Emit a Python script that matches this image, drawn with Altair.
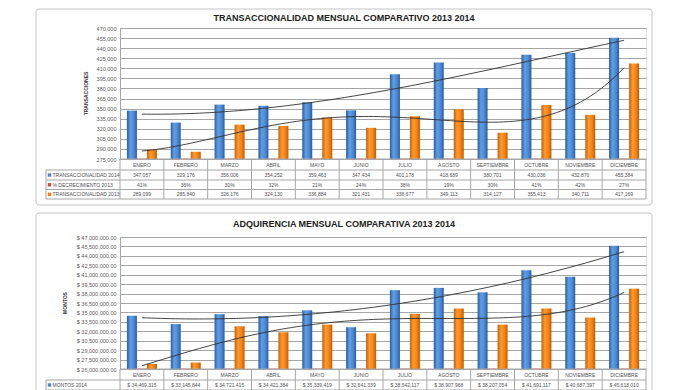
import altair as alt
import pandas as pd

# ---------------- data ----------------
meses = ["ENERO", "FEBRERO", "MARZO", "ABRIL", "MAYO", "JUNIO", "JULIO",
         "AGOSTO", "SEPTIEMBRE", "OCTUBRE", "NOVIEMBRE", "DICIEMBRE"]
trans_2014 = [347057, 329176, 356006, 354252, 359463, 347434, 401178,
              418689, 380701, 430036, 432870, 455384]
trans_2013 = [289099, 285840, 326176, 324130, 336884, 321431, 338677,
              349113, 314127, 355413, 340711, 417169]
pct_2013 = [41, 36, 30, 32, 21, 24, 38, 19, 30, 41, 42, 27]

montos_2014 = [34469315, 33145844, 34721415, 34421384, 35339419, 32641339,
               38542117, 38907968, 38207054, 41691117, 40687397, 45618010]
montos_2013 = [26820000, 27030000, 32800000, 31840000, 33070000, 31680000,
               34780000, 35630000, 33070000, 35630000, 34190000, 38780000]
pct_2014 = [0.3, 0.2, 0.1, 0.1, 0.1, 0.1, 0.1, 0.1, 0.2, 0.2, 0.2, 0.2]

ticks_top = list(range(275000, 470001, 15000))
ticks_bot = list(range(26000000, 47000001, 1500000))

# ---------------- style ----------------
W = 526
FONT = "Liberation Sans"
GRID = "#a6a6a6"
TXT = "#505050"
BLUE = "#4a89d6"
RED = "#c0504d"
ORANGE = "#f5820f"

blue_grad = alt.Gradient(gradient="linear", x1=0, x2=1, y1=0, y2=0, stops=[
    alt.GradientStop(color="#2c5d9e", offset=0),
    alt.GradientStop(color="#5f9fe6", offset=0.35),
    alt.GradientStop(color="#4b88d4", offset=0.7),
    alt.GradientStop(color="#2a5a9c", offset=1)])
orange_grad = alt.Gradient(gradient="linear", x1=0, x2=1, y1=0, y2=0, stops=[
    alt.GradientStop(color="#c4600a", offset=0),
    alt.GradientStop(color="#ff9a30", offset=0.35),
    alt.GradientStop(color="#f4820f", offset=0.7),
    alt.GradientStop(color="#c05a06", offset=1)])

xband = alt.Scale(domain=meses, paddingInner=0, paddingOuter=0)
xoff_scale = alt.Scale(domain=["a", "b", "c"], paddingInner=0, paddingOuter=0.69)
one = pd.DataFrame({"k": [0]})


def hline(y, x1, x2, color=GRID):
    return alt.Chart(one).mark_rule(color=color, strokeWidth=1).encode(
        x=alt.value(x1), x2=alt.value(x2), y=alt.value(y))


def vline(x, y1, y2, color=GRID):
    return alt.Chart(one).mark_rule(color=color, strokeWidth=1).encode(
        x=alt.value(x), x2=alt.value(x), y=alt.value(y1), y2=alt.value(y2))


def label(text, x, y, size=5, bold=False, align="left", angle=0, color=TXT):
    return alt.Chart(one).mark_text(
        text=text, fontSize=size, font=FONT, fontWeight="bold" if bold else "normal",
        align=align, baseline="middle", angle=angle, color=color).encode(
        x=alt.value(x), y=alt.value(y))


def swatch(color, x, y):
    return alt.Chart(one).mark_square(size=12, color=color, opacity=1).encode(
        x=alt.value(x), y=alt.value(y))


def panel(H, frame_top, frame_bot, title, title_y, ytitle, ytitle_x,
          v14, v13, pct, dom, ticks, ylab_expr, rows, pct_text, v13_text,
          order14, order13):
    df = pd.DataFrame({"mes": meses, "idx": list(range(1, 13)),
                       "v14": v14, "v13": v13, "pct": pct})
    yscale = alt.Scale(domain=dom, nice=False, zero=False, clamp=True)
    yax = alt.Axis(values=ticks, grid=True, gridColor=GRID, gridWidth=1,
                   domain=True, domainColor=GRID, ticks=False,
                   labelFontSize=5.5, labelFont=FONT, labelColor="#595959",
                   labelPadding=4, labelExpr=ylab_expr, title=None)
    xm = alt.X("mes:N", scale=xband, axis=None)
    base = alt.Chart(df)

    frame = alt.Chart(one).mark_rect(
        fillOpacity=0, stroke="#c4c4c4", strokeWidth=1, cornerRadius=3).encode(
        x=alt.value(-84), x2=alt.value(W + 6),
        y=alt.value(frame_top), y2=alt.value(frame_bot))

    bars14 = base.transform_calculate(s="'a'").mark_bar(fill=blue_grad).encode(
        x=xm, xOffset=alt.XOffset("s:N", scale=xoff_scale),
        y=alt.Y("v14:Q", scale=yscale, axis=yax))
    barsp = base.transform_calculate(s="'b'").mark_bar(
        fill=RED, stroke="#e8a0a0", strokeWidth=1).encode(
        x=xm, xOffset=alt.XOffset("s:N", scale=xoff_scale),
        y=alt.Y("pct:Q", scale=yscale, axis=yax))
    bars13 = base.transform_calculate(s="'c'").mark_bar(fill=orange_grad).encode(
        x=xm, xOffset=alt.XOffset("s:N", scale=xoff_scale),
        y=alt.Y("v13:Q", scale=yscale, axis=yax))

    xq = alt.X("idx:Q", scale=alt.Scale(domain=[0.5, 12.5], nice=False, zero=False),
               axis=None)
    trend14 = base.transform_regression(
        "idx", "v14", method="poly", order=order14).mark_line(
        color="#303030", strokeWidth=0.9).encode(
        x=xq, y=alt.Y("v14:Q", scale=yscale, axis=yax))
    trend13 = base.transform_regression(
        "idx", "v13", method="poly", order=order13).mark_line(
        color="#303030", strokeWidth=0.9).encode(
        x=xq, y=alt.Y("v13:Q", scale=yscale, axis=yax))

    # data table
    layers = [frame, bars14, barsp, bars13, trend14, trend13]
    row_y = [H + 11, H + 21, H + 30.5, H + 40]
    layers.append(hline(H, 0, W))
    for yy in row_y:
        layers.append(hline(yy, -74, W))
    layers.append(base.mark_rule(color=GRID, strokeWidth=1).encode(
        x=alt.X("mes:N", scale=xband, axis=None, bandPosition=0),
        y=alt.value(H), y2=alt.value(H + 40)))
    layers.append(vline(W, H, H + 40))
    layers.append(vline(-74, H + 11, H + 40))

    txt = dict(fontSize=5, font=FONT, color=TXT, baseline="middle", align="center")
    layers.append(base.mark_text(**txt).encode(
        x=xm, y=alt.value(H + 5.5), text="mes:N"))
    layers.append(base.transform_calculate(
        t=ylab_expr.replace("datum.value", "datum.v14").replace(",.2f", ",.0f")
    ).mark_text(**txt).encode(x=xm, y=alt.value(H + 16), text="t:N"))
    if pct_text:
        layers.append(base.transform_calculate(
            t="format(datum.pct, 'd') + '%'").mark_text(**txt).encode(
            x=xm, y=alt.value(H + 25.8), text="t:N"))
    if v13_text:
        layers.append(base.transform_calculate(
            t=ylab_expr.replace("datum.value", "datum.v13")).mark_text(**txt).encode(
            x=xm, y=alt.value(H + 35.3), text="t:N"))

    for (name, color), yy in zip(rows, [H + 16, H + 25.8, H + 35.3]):
        layers.append(swatch(color, -70.5, yy))
        layers.append(label(name, -67.5, yy, size=5))

    layers.append(label(title, 224, title_y, size=9, bold=True, align="center",
                        color="#202020"))
    layers.append(label(ytitle, ytitle_x, H / 2, size=5, bold=True,
                        align="center", angle=270, color="#303030"))

    return alt.layer(*layers).properties(width=W, height=H).resolve_scale(
        x="independent")


top = panel(
    H=131, frame_top=-19, frame_bot=177,
    title="TRANSACCIONALIDAD  MENSUAL  COMPARATIVO  2013  2014", title_y=-10,
    ytitle="TRANSACCIONES", ytitle_x=-34,
    v14=trans_2014, v13=trans_2013, pct=pct_2013,
    dom=[275000, 470000], ticks=ticks_top,
    ylab_expr="format(datum.value, ',.0f')",
    rows=[("TRANSACCIONALIDAD  2014", BLUE), ("% DECRECIMIENTO  2013", RED),
          ("TRANSACCIONALIDAD  2013", ORANGE)],
    pct_text=True, v13_text=True, order14=3, order13=4)

bottom = panel(
    H=132, frame_top=-24, frame_bot=190,
    title="ADQUIRENCIA  MENSUAL  COMPARATIVA  2013   2014", title_y=-13,
    ytitle="MONTOS", ytitle_x=-55,
    v14=montos_2014, v13=montos_2013, pct=pct_2014,
    dom=[26000000, 47000000], ticks=ticks_bot,
    ylab_expr="'$ ' + format(datum.value, ',.2f')",
    rows=[("MONTOS  2014", BLUE), ("% DE CRECIMIENTO  2014", RED),
          ("MONTOS  2013", ORANGE)],
    pct_text=False, v13_text=False, order14=3, order13=4)

chart = alt.vconcat(top, bottom, spacing=6).properties(
    padding={"left": 27, "top": 0, "right": 0, "bottom": 0}
).configure_view(stroke=None).configure(background="white")

chart.save("out.html", embed_options={"renderer": "svg", "actions": False})
